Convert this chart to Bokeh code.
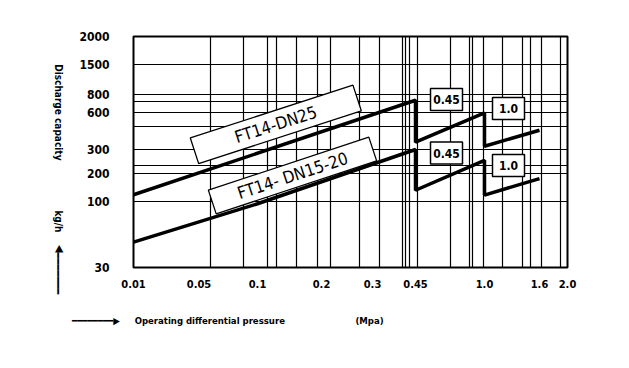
import numpy as np
from bokeh.plotting import figure
from bokeh.models import Range1d, FixedTicker, LinearAxis
from bokeh.core.properties import value
from bokeh.embed import file_html
from bokeh.resources import INLINE

# ---------------- data ----------------
pressure_ticks = [0.01, 0.05, 0.1, 0.2, 0.3, 0.45, 1.0, 1.6, 2.0]
pressure_labels = ["0.01", "0.05", "0.1", "0.2", "0.3", "0.45", "1.0", "1.6", "2.0"]
capacity_ticks = [30, 100, 200, 300, 600, 800, 1500, 2000]
capacity_labels = ["30", "100", "200", "300", "600", "800", "1500", "2000"]

dn25_pressure = [0.01, 0.45, 0.45, 1.0, 1.0, 1.6]
dn25_capacity = [125, 735, 360, 600, 327, 458]
dn15_pressure = [0.01, 0.1, 0.45, 0.45, 1.0, 1.0, 1.6]
dn15_capacity = [57, 98, 300, 141, 255, 124, 182]

# ---------------- the chart's own (hand drawn, non uniform) scale ----------------
X_POS = [0, 65.5, 124, 188, 239, 282, 351, 406, 434]
Y_POS = [0, 65.6, 94, 118, 154.6, 173.3, 203, 231]
X_GRID = [76.6, 110, 134, 142.8, 163.3, 183.8, 197.3, 225.6, 245.6, 268.8, 272.3,
          275.6, 283.8, 316.8, 335.6, 339, 349.6, 369, 389, 397.3, 407.8, 427.3]
Y_GRID = [65.6, 94, 101.7, 118, 141.3, 154.6, 165.6, 173.3, 203]


def fx(v):
    return np.interp(v, pressure_ticks, X_POS)


def fy(v):
    return np.interp(v, capacity_ticks, Y_POS)


COND = "DejaVu Sans Condensed"
BAR, UP, RIGHT, NB = "\u2501", "\u25b6", "\u25b6", "\u00a0"

p = figure(width=621, height=360, output_backend="svg", toolbar_location=None,
           x_range=Range1d(0, 434), y_range=Range1d(0, 231),
           min_border_left=133, min_border_right=54, min_border_top=36, min_border_bottom=93)
p.background_fill_color = "white"
p.border_fill_color = "white"
p.outline_line_color = "black"
p.outline_line_width = 2


def style_axis(ax, size):
    ax.axis_line_color = None
    ax.major_tick_line_color = None
    ax.minor_tick_line_color = None
    ax.major_label_text_font = COND
    ax.major_label_text_font_style = "bold"
    ax.major_label_text_color = "black"
    ax.major_label_text_font_size = size


# main axes
p.xaxis.ticker = FixedTicker(ticks=list(fx(pressure_ticks)))
p.xaxis.major_label_overrides = {float(k): s for k, s in zip(fx(pressure_ticks), pressure_labels)}
p.yaxis.ticker = FixedTicker(ticks=list(fy(capacity_ticks)))
p.yaxis.major_label_overrides = {float(k): s for k, s in zip(fy(capacity_ticks), capacity_labels)}
style_axis(p.xaxis[0], "11px")
style_axis(p.yaxis[0], "12px")
p.xaxis.major_label_standoff = 6
p.yaxis.major_label_standoff = 18

# up arrow (reads upwards) on its own left axis
arrow_axis = LinearAxis(ticker=FixedTicker(ticks=[22.5]),
                        major_label_overrides={22.5: BAR * 7 + UP},
                        major_label_orientation=np.pi / 2, major_label_standoff=12)
style_axis(arrow_axis, "11px")
p.add_layout(arrow_axis, "left")

# y titles (read downwards)
y_title_pos = [107.0, 35.0]
y_title_txt = ["Discharge capacity", "kg/h"]
ytitle = LinearAxis(ticker=FixedTicker(ticks=y_title_pos),
                    major_label_overrides=dict(zip(y_title_pos, y_title_txt)),
                    major_label_orientation=-np.pi / 2, major_label_standoff=-22)
style_axis(ytitle, "10px")
p.add_layout(ytitle, "left")

# x titles
x_title_pos = [45.0, 236.0]
x_title_txt = [BAR * 8 + RIGHT + NB * 5 + "Operating differential pressure", "(Mpa)"]
xtitle = LinearAxis(ticker=FixedTicker(ticks=x_title_pos),
                    major_label_overrides=dict(zip(x_title_pos, x_title_txt)),
                    major_label_standoff=18)
style_axis(xtitle, "9.5px")
p.add_layout(xtitle, "below")

# grid
p.xgrid.ticker = FixedTicker(ticks=X_GRID)
p.ygrid.ticker = FixedTicker(ticks=Y_GRID)
for g in (p.xgrid[0], p.ygrid[0]):
    g.grid_line_color = "black"
    g.grid_line_width = 1.2

# rotated name boxes
p.rect(x=[142.3, 159], y=[143.1, 92], width=[171, 169], height=[27, 25],
       width_units="screen", height_units="screen", angle=[np.radians(18), np.radians(18.3)],
       fill_color="white", line_color="black", line_width=1.3)
p.text(x=[142.3, 159], y=[143.1, 92], text=["FT14-DN25", "FT14- DN15-20"],
       angle=[np.radians(18), np.radians(18.3)], text_align="center", text_baseline="middle",
       text_font=value(COND), text_font_size="17px", text_color="black")

# the curves
p.line(fx(dn25_pressure), fy(dn25_capacity), line_color="black", line_width=3.5)
p.line(fx(dn15_pressure), fy(dn15_capacity), line_color="black", line_width=3.5)

# pressure boxes
bx = [313, 375, 313, 375]
by = [168, 159, 114.5, 102]
p.rect(x=bx, y=by, width=32, height=22, width_units="screen", height_units="screen",
       fill_color="white", line_color="black", line_width=1.5)
p.text(x=bx, y=by, text=["0.45", "1.0", "0.45", "1.0"], text_align="center",
       text_baseline="middle", text_font=value(COND), text_font_style="bold",
       text_font_size="12px", text_color="black")

open("out.html", "w").write(file_html(p, INLINE))
